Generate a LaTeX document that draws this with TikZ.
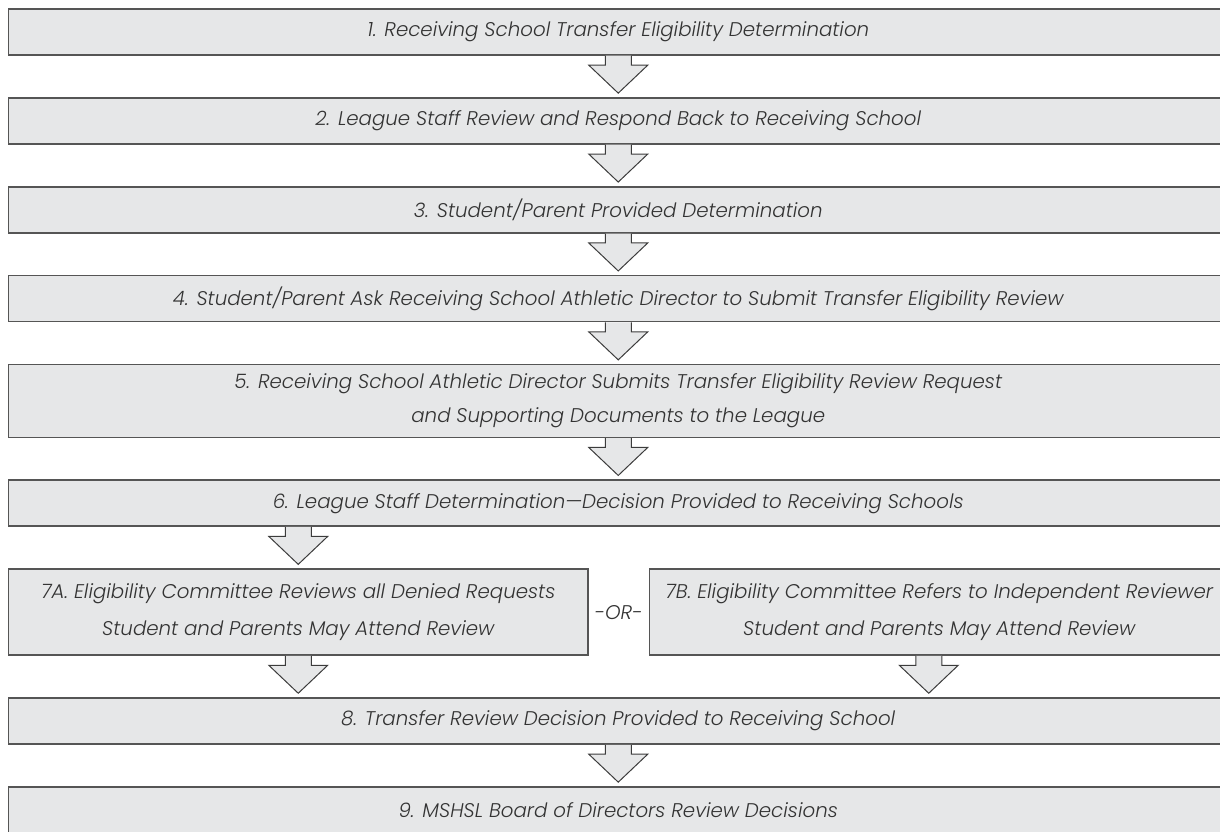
\documentclass[tikz,border=0pt]{standalone}
\usepackage{fontspec}
\setmainfont{Poppins}[UprightFont=* Light, ItalicFont=* Light Italic]
\usetikzlibrary{positioning,calc}

\definecolor{boxfill}{HTML}{E6E7E8}
\definecolor{boxline}{HTML}{555555}
\definecolor{arrowline}{HTML}{3C3C3C}
\definecolor{textgray}{HTML}{333333}

\tikzstyle{stage} = [rectangle, minimum width=1219.5pt, minimum height=46pt, text centered, draw=boxline, line width=1.5pt, fill=boxfill, text=textgray, font=\itshape\fontsize{19.8}{34}\selectfont]
\tikzstyle{tallstage} = [stage, minimum height=72.7pt, align=center]
\tikzstyle{halfstage} = [stage, minimum width=579.5pt, minimum height=86pt, align=center]
\tikzstyle{ortext} = [text=textgray, font=\itshape\fontsize{19.8}{34}\selectfont, inner sep=0pt]
\tikzstyle{blockarrow} = [draw=arrowline, line width=1pt, fill=boxfill]

\newcommand{\flowto}[2]{%
  \draw[blockarrow] let \p1=(#1), \p2=(#2) in
    (\x1-13pt,\y1) -- (\x1-13pt,\y2+32pt) -- (\x1-29.5pt,\y2+32pt) -- (\x1,\y2+4pt)
    -- (\x1+29.5pt,\y2+32pt) -- (\x1+13pt,\y2+32pt) -- (\x1+13pt,\y1);}

\begin{document}
\begin{tikzpicture}[x=1pt, y=1pt, node distance=41.4pt]
      \useasboundingbox (0,0) rectangle (1220,831);

      \node (b1) [stage] at (618.25,799) {1. Receiving School Transfer Eligibility Determination};
      \node (b2) [stage, below=of b1] {2. League Staff Review and Respond Back to Receiving School};
      \node (b3) [stage, below=of b2] {3. Student/Parent Provided Determination};
      \node (b4) [stage, below=of b3] {4. Student/Parent Ask Receiving School Athletic Director to Submit Transfer Eligibility Review};
      \node (b5) [tallstage, below=of b4] {5. Receiving School Athletic Director Submits Transfer Eligibility Review Request\\and Supporting Documents to the League};
      \node (b6) [stage, below=of b5] {6. League Staff Determination---Decision Provided to Receiving Schools};
      \node (b7a) [halfstage, below=of b6.south west, anchor=north west] {7A. Eligibility Committee Reviews all Denied Requests\\[3pt]Student and Parents May Attend Review};
      \node (b7b) [halfstage, right=60pt of b7a] {7B. Eligibility Committee Refers to Independent Reviewer\\[3pt]Student and Parents May Attend Review};
      \node (or) [ortext] at ($(b7a.east)!0.5!(b7b.west)$) {-OR-};
      \node (b8) [stage, below=of b7a.south west, anchor=north west] {8. Transfer Review Decision Provided to Receiving School};
      \node (b9) [stage, below=of b8] {9. MSHSL Board of Directors Review Decisions};

      \coordinate (b7bout) at ([xshift=-10.5pt]b7b.south);

      \foreach \a/\b in {b1/b2, b2/b3, b3/b4, b4/b5, b5/b6, b8/b9}
        \flowto{\a.south}{\b.north};
      \flowto{b7a.north |- b6.south}{b7a.north};
      \flowto{b7a.south}{b7a.south |- b8.north};
      \flowto{b7bout}{b7bout |- b8.north};
    \end{tikzpicture}
\end{document}
